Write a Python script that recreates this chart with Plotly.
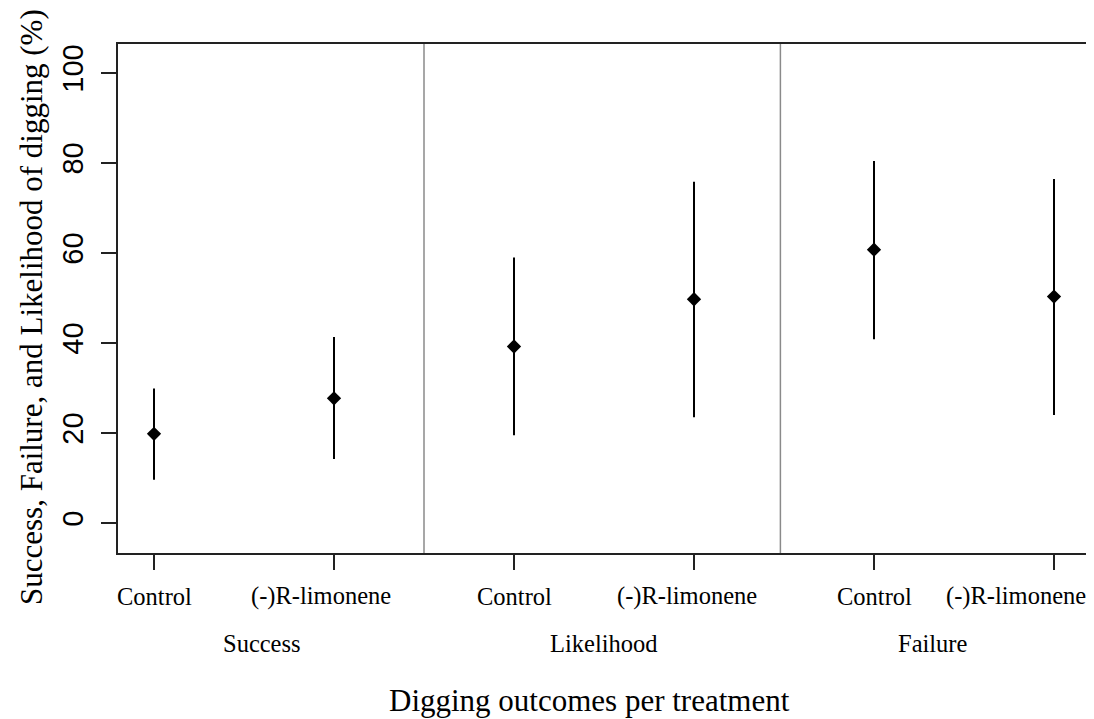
import plotly.graph_objects as go

# ---- data ----
treatments = ["Control", "(-)R-limonene", "Control", "(-)R-limonene", "Control", "(-)R-limonene"]
outcomes = ["Success", "Likelihood", "Failure"]
positions = [1, 2, 3, 4, 5, 6]
group_centers = [1.6, 3.5, 5.33]
separators = [2.5, 4.48]
means = [19.8, 27.7, 39.2, 49.7, 60.7, 50.3]
lower = [9.6, 14.2, 19.5, 23.5, 40.8, 24.0]
upper = [29.9, 41.3, 59.0, 75.8, 80.4, 76.4]
y_ticks = [0, 20, 40, 60, 80, 100]

# label nudges (in axis units) so the long labels stay inside the page, as in the original
label_shift = [0.0, -0.07, 0.0, -0.04, 0.0, -0.21]

err_plus = [u - m for u, m in zip(upper, means)]
err_minus = [m - l for m, l in zip(means, lower)]

serif = "Liberation Serif, Times New Roman, serif"
sans = "Liberation Sans, Arial, sans-serif"

# page has an 8px body margin; size the figure to fill the rest of the window
OFF = 8
W, H = 1094 - OFF, 719 - OFF
L, T = 118 - OFF, 44 - OFF
R = W - (1090 - OFF)
B = H - (553 - OFF)
plot_w = W - L - R
plot_h = H - T - B


def py(page_y):
    return (H - B - (page_y - OFF)) / plot_h


def px(page_x):
    return ((page_x - OFF) - L) / plot_w


fig = go.Figure()
fig.add_trace(go.Scatter(
    x=positions, y=means, mode="markers",
    marker=dict(symbol="diamond", size=11, color="black"),
    error_y=dict(type="data", symmetric=False, array=err_plus, arrayminus=err_minus,
                 color="black", thickness=2, width=0),
    showlegend=False, hoverinfo="skip",
))

for s in separators:
    fig.add_shape(type="line", xref="x", yref="paper", x0=s, x1=s, y0=0, y1=1,
                  line=dict(color="#8a8a8a", width=1.5), layer="below")

for p, t, d in zip(positions, treatments, label_shift):
    fig.add_annotation(x=p + d, xref="x", y=py(596), yref="paper", text=t, showarrow=False,
                       xanchor="center", yanchor="middle",
                       font=dict(family=serif, size=24.5, color="black"))

for c, g in zip(group_centers, outcomes):
    fig.add_annotation(x=c, xref="x", y=py(643), yref="paper", text=g, showarrow=False,
                       xanchor="center", yanchor="middle",
                       font=dict(family=serif, size=24.5, color="black"))

fig.add_annotation(x=px(589), xref="paper", y=py(700), yref="paper",
                   text="Digging outcomes per treatment", showarrow=False,
                   xanchor="center", yanchor="middle",
                   font=dict(family=serif, size=31, color="black"))
fig.add_annotation(x=px(31), xref="paper", y=py(307), yref="paper", textangle=-90,
                   text="Success, Failure, and Likelihood of digging (%)", showarrow=False,
                   xanchor="center", yanchor="middle",
                   font=dict(family=serif, size=31, color="black"))

fig.update_layout(
    width=W, height=H,
    margin=dict(l=L, r=R, t=T, b=B, autoexpand=False),
    plot_bgcolor="white", paper_bgcolor="white",
    xaxis=dict(range=[0.8, 6.2], tickvals=positions, ticktext=[""] * 6,
               ticks="outside", ticklen=15, tickwidth=2, tickcolor="#222",
               showline=True, linecolor="#222", linewidth=2, mirror=True,
               showgrid=False, zeroline=False, automargin=False),
    yaxis=dict(range=[-6.67, 106.4], tickvals=y_ticks, tickangle=-90,
               ticks="outside", ticklen=15, tickwidth=2, tickcolor="#222",
               showline=True, linecolor="#222", linewidth=2, mirror=True,
               showgrid=False, zeroline=False, automargin=False,
               ticklabelstandoff=6,
               tickfont=dict(family=sans, size=29, color="black")),
)

fig.write_html("out.html")
